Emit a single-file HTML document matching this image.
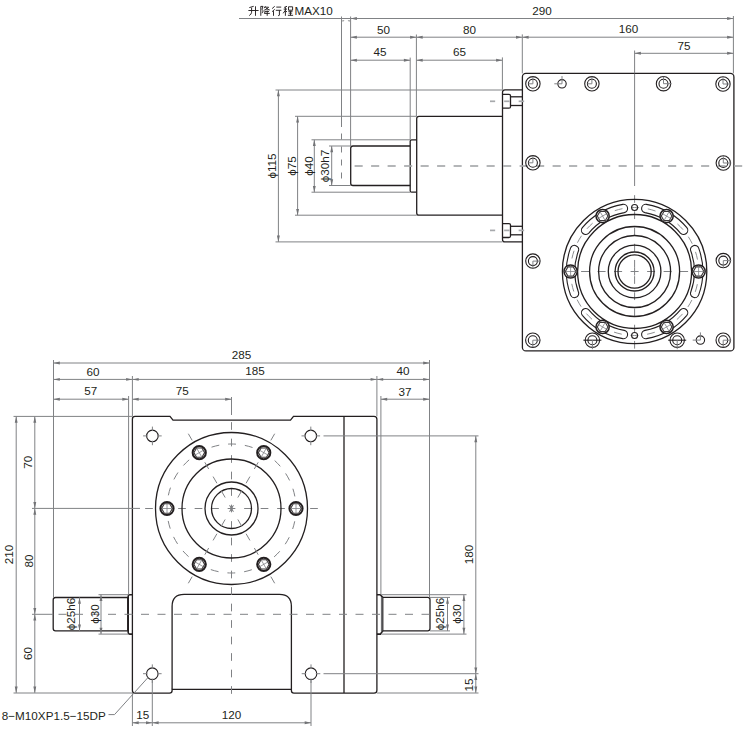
<!DOCTYPE html>
<html><head><meta charset="utf-8"><style>
html,body{margin:0;padding:0;background:#fff;}
body{width:743px;height:731px;overflow:hidden;}
svg{display:block;}
text{font-family:"Liberation Sans",sans-serif;fill:#231f20;}
.d{fill:none;stroke:#231f20;stroke-width:1.3;}
.dk{fill:none;stroke:#231f20;stroke-width:1.6;}
.dt{fill:none;stroke:#231f20;stroke-width:1.1;}
.dt2{fill:none;stroke:#231f20;stroke-width:1.3;}
.g{fill:none;stroke:#808285;stroke-width:1;}
.gt{fill:none;stroke:#808285;stroke-width:0.8;}
.c{fill:none;stroke:#a7a9ac;stroke-width:1.5;stroke-dasharray:8 8.6;}
.lc{fill:none;stroke:#a7a9ac;stroke-width:1.7;}
.gt2{fill:none;stroke:#808285;stroke-width:0.9;}
.c3{fill:none;stroke:#808285;stroke-width:1;stroke-dasharray:9 7;}
</style></head><body>
<svg width="743" height="731" viewBox="0 0 743 731">
<rect width="743" height="731" fill="#fff"/>
<rect class="d" x="522.4" y="73.4" width="211.5" height="277.5" rx="3.5"/>
<path class="d" d="M522.4 89.8H505Q502.5 89.8 502.5 92.3V239.4Q502.5 241.9 505 241.9H522.4"/>
<path class="d" d="M502.5 94.3H509Q510.5 94.3 510.5 95.8V106.7Q510.5 108.2 509 108.2H502.5"/>
<line class="d" x1="510.5" y1="96.8" x2="522.4" y2="96.8"/>
<line class="d" x1="510.5" y1="105.5" x2="522.4" y2="105.5"/>
<path class="d" d="M502.5 223.6H509Q510.5 223.6 510.5 225.1V236Q510.5 237.5 509 237.5H502.5"/>
<line class="d" x1="510.5" y1="226.3" x2="522.4" y2="226.3"/>
<line class="d" x1="510.5" y1="234.8" x2="522.4" y2="234.8"/>
<path class="d" d="M502.5 116.3H419Q416.7 116.3 416.7 118.6V212.9Q416.7 215.2 419 215.2H502.5"/>
<path class="d" d="M416.7 139.8H411.7Q410.2 139.8 410.2 141.3V190.7Q410.2 192.2 411.7 192.2H416.7"/>
<path class="d" d="M410.2 146H353Q350.7 146 350.7 148.3V183.2Q350.7 185.5 353 185.5H410.2"/>
<line class="lc" x1="354.6" y1="166" x2="362.7" y2="166"/>
<line class="lc" x1="371.1" y1="166" x2="379.2" y2="166"/>
<line class="lc" x1="387.6" y1="166" x2="395.7" y2="166"/>
<line class="lc" x1="404.1" y1="166" x2="412.2" y2="166"/>
<line class="lc" x1="420.6" y1="166" x2="428.7" y2="166"/>
<line class="lc" x1="437.1" y1="166" x2="445.2" y2="166"/>
<line class="lc" x1="453.6" y1="166" x2="461.7" y2="166"/>
<line class="lc" x1="470.1" y1="166" x2="478.2" y2="166"/>
<line class="lc" x1="486.6" y1="166" x2="494.7" y2="166"/>
<line class="lc" x1="503.1" y1="166" x2="511.2" y2="166"/>
<line class="lc" x1="519.6" y1="166" x2="527.7" y2="166"/>
<line class="lc" x1="536.1" y1="166" x2="544.2" y2="166"/>
<line class="lc" x1="552.6" y1="166" x2="560.7" y2="166"/>
<line class="lc" x1="569.1" y1="166" x2="577.2" y2="166"/>
<line class="lc" x1="585.6" y1="166" x2="593.7" y2="166"/>
<line class="lc" x1="602.1" y1="166" x2="610.2" y2="166"/>
<line class="lc" x1="618.6" y1="166" x2="626.7" y2="166"/>
<line class="lc" x1="635.1" y1="166" x2="643.2" y2="166"/>
<line class="lc" x1="651.6" y1="166" x2="659.7" y2="166"/>
<line class="lc" x1="668.1" y1="166" x2="676.2" y2="166"/>
<line class="lc" x1="684.6" y1="166" x2="692.7" y2="166"/>
<line class="lc" x1="701.1" y1="166" x2="709.2" y2="166"/>
<line class="lc" x1="717.6" y1="166" x2="725.7" y2="166"/>
<line class="lc" x1="734.1" y1="166" x2="742.2" y2="166"/>
<line class="g" x1="634.6" y1="74" x2="634.6" y2="186"/>
<line class="g" x1="634.6" y1="195.15" x2="634.6" y2="202.85"/>
<line class="g" x1="634.6" y1="211.35" x2="634.6" y2="219.05"/>
<line class="g" x1="634.6" y1="227.55" x2="634.6" y2="235.25"/>
<line class="g" x1="634.6" y1="243.75" x2="634.6" y2="251.45"/>
<line class="g" x1="634.6" y1="259.95" x2="634.6" y2="267.65"/>
<line class="g" x1="634.6" y1="276.15" x2="634.6" y2="283.85"/>
<line class="g" x1="634.6" y1="292.35" x2="634.6" y2="300.05"/>
<line class="g" x1="634.6" y1="308.55" x2="634.6" y2="316.25"/>
<line class="g" x1="634.6" y1="324.75" x2="634.6" y2="332.45"/>
<line class="g" x1="634.6" y1="340.95" x2="634.6" y2="348.65"/>
<line class="g" x1="634.6" y1="267.5" x2="634.6" y2="275.5"/>
<line class="g" x1="564.6" y1="271.5" x2="572.6" y2="271.5"/>
<line class="g" x1="581.1" y1="271.5" x2="589.1" y2="271.5"/>
<line class="g" x1="597.6" y1="271.5" x2="605.6" y2="271.5"/>
<line class="g" x1="614.1" y1="271.5" x2="622.1" y2="271.5"/>
<line class="g" x1="630.6" y1="271.5" x2="638.6" y2="271.5"/>
<line class="g" x1="647.1" y1="271.5" x2="655.1" y2="271.5"/>
<line class="g" x1="663.6" y1="271.5" x2="671.6" y2="271.5"/>
<line class="g" x1="680.1" y1="271.5" x2="688.1" y2="271.5"/>
<line class="g" x1="696.6" y1="271.5" x2="704.6" y2="271.5"/>
<line class="lc" x1="490" y1="101.3" x2="495.15" y2="101.3"/>
<line class="lc" x1="504.15" y1="101.3" x2="509.65" y2="101.3"/>
<line class="lc" x1="518.65" y1="101.3" x2="524.15" y2="101.3"/>
<line class="lc" x1="490" y1="230.4" x2="495.15" y2="230.4"/>
<line class="lc" x1="504.15" y1="230.4" x2="509.65" y2="230.4"/>
<line class="lc" x1="518.65" y1="230.4" x2="524.15" y2="230.4"/>
<circle class="dt" cx="532.9" cy="83.8" r="7.2"/>
<circle class="dt" cx="532.9" cy="83.8" r="4.5"/>
<line class="g" x1="532.9" y1="76.8" x2="532.9" y2="83.8"/>
<line class="g" x1="528.4" y1="83.8" x2="532.9" y2="83.8"/>
<circle class="dt" cx="591.9" cy="83.8" r="7.2"/>
<circle class="dt" cx="591.9" cy="83.8" r="4.5"/>
<line class="g" x1="591.9" y1="76.8" x2="591.9" y2="83.8"/>
<line class="g" x1="587.4" y1="83.8" x2="591.9" y2="83.8"/>
<circle class="dt" cx="663.5" cy="83.7" r="7.2"/>
<circle class="dt" cx="663.5" cy="83.7" r="4.5"/>
<line class="g" x1="663.5" y1="76.7" x2="663.5" y2="83.7"/>
<line class="g" x1="671.5" y1="83.7" x2="663.5" y2="83.7"/>
<circle class="dt" cx="723" cy="84" r="7.2"/>
<circle class="dt" cx="723" cy="84" r="4.5"/>
<line class="g" x1="723" y1="77" x2="723" y2="84"/>
<line class="g" x1="731" y1="84" x2="723" y2="84"/>
<circle class="dt" cx="532.9" cy="162.8" r="7.2"/>
<circle class="dt" cx="532.9" cy="162.8" r="4.5"/>
<line class="g" x1="532.9" y1="155.8" x2="532.9" y2="162.8"/>
<line class="g" x1="528.4" y1="162.8" x2="532.9" y2="162.8"/>
<circle class="dt" cx="723.3" cy="163" r="7.2"/>
<circle class="dt" cx="723.3" cy="163" r="4.5"/>
<line class="g" x1="723.3" y1="156" x2="723.3" y2="163"/>
<line class="g" x1="731.3" y1="163" x2="723.3" y2="163"/>
<circle class="dt" cx="532.9" cy="261.1" r="7.2"/>
<circle class="dt" cx="532.9" cy="261.1" r="4.5"/>
<line class="g" x1="532.9" y1="261.1" x2="532.9" y2="268.1"/>
<line class="g" x1="532.9" y1="261.1" x2="540.9" y2="261.1"/>
<circle class="dt" cx="723.3" cy="260.6" r="7.2"/>
<circle class="dt" cx="723.3" cy="260.6" r="4.5"/>
<line class="g" x1="723.3" y1="260.6" x2="723.3" y2="267.6"/>
<line class="g" x1="723.3" y1="260.6" x2="731.3" y2="260.6"/>
<circle class="dt" cx="532.8" cy="340.2" r="7.2"/>
<circle class="dt" cx="532.8" cy="340.2" r="4.5"/>
<line class="g" x1="532.8" y1="340.2" x2="532.8" y2="347.2"/>
<line class="g" x1="532.8" y1="340.2" x2="540.8" y2="340.2"/>
<circle class="dt" cx="723.2" cy="340.2" r="7.2"/>
<circle class="dt" cx="723.2" cy="340.2" r="4.5"/>
<line class="g" x1="723.2" y1="340.2" x2="723.2" y2="347.2"/>
<line class="g" x1="723.2" y1="340.2" x2="731.2" y2="340.2"/>
<circle class="dt" cx="592.4" cy="340.2" r="7.2"/>
<circle class="dt" cx="592.4" cy="340.2" r="4.5"/>
<line class="dt" x1="583.4" y1="340.2" x2="601.4" y2="340.2"/>
<line class="g" x1="592.4" y1="340.2" x2="592.4" y2="349.2"/>
<circle class="dt" cx="677.2" cy="340.2" r="7.2"/>
<circle class="dt" cx="677.2" cy="340.2" r="4.5"/>
<line class="dt" x1="668.2" y1="340.2" x2="686.2" y2="340.2"/>
<line class="g" x1="677.2" y1="340.2" x2="677.2" y2="349.2"/>
<circle class="dt" cx="562" cy="83.8" r="4.2"/>
<line class="g" x1="562" y1="76.1" x2="562" y2="83.8"/>
<line class="g" x1="554.3" y1="83.8" x2="562" y2="83.8"/>
<circle class="dt" cx="700.4" cy="340.1" r="4.2"/>
<line class="g" x1="700.4" y1="332.4" x2="700.4" y2="340.1"/>
<line class="g" x1="692.7" y1="340.1" x2="700.4" y2="340.1"/>
<circle class="d" cx="634.6" cy="271.5" r="72.2"/>
<circle class="d" cx="634.6" cy="271.5" r="57"/>
<circle class="d" cx="634.6" cy="271.5" r="45"/>
<circle class="d" cx="634.6" cy="271.5" r="36"/>
<circle class="d" cx="634.6" cy="271.5" r="26.3"/>
<circle class="d" cx="634.6" cy="271.5" r="19.5"/>
<circle class="d" cx="634.6" cy="271.5" r="16.6"/>
<path class="dt" d="M698.69 294.83 A68.2 68.2 0 0 0 698.69 248.17 A4.2 4.2 0 0 0 690.79 251.05 A59.8 59.8 0 0 1 690.79 291.95 A4.2 4.2 0 0 0 698.69 294.83 Z"/>
<path class="dt" d="M686.84 227.66 A68.2 68.2 0 0 0 646.44 204.34 A4.2 4.2 0 0 0 644.98 212.61 A59.8 59.8 0 0 1 680.41 233.06 A4.2 4.2 0 0 0 686.84 227.66 Z"/>
<path class="dt" d="M622.76 204.34 A68.2 68.2 0 0 0 582.36 227.66 A4.2 4.2 0 0 0 588.79 233.06 A59.8 59.8 0 0 1 624.22 212.61 A4.2 4.2 0 0 0 622.76 204.34 Z"/>
<path class="dt" d="M570.51 248.17 A68.2 68.2 0 0 0 570.51 294.83 A4.2 4.2 0 0 0 578.41 291.95 A59.8 59.8 0 0 1 578.41 251.05 A4.2 4.2 0 0 0 570.51 248.17 Z"/>
<path class="dt" d="M582.36 315.34 A68.2 68.2 0 0 0 622.76 338.66 A4.2 4.2 0 0 0 624.22 330.39 A59.8 59.8 0 0 1 588.79 309.94 A4.2 4.2 0 0 0 582.36 315.34 Z"/>
<path class="dt" d="M646.44 338.66 A68.2 68.2 0 0 0 686.84 315.34 A4.2 4.2 0 0 0 680.41 309.94 A59.8 59.8 0 0 1 644.98 330.39 A4.2 4.2 0 0 0 646.44 338.66 Z"/>
<circle class="gt2" cx="634.6" cy="271.5" r="64" stroke-dasharray="8 8.76" stroke-dashoffset="4"/>
<circle cx="698.6" cy="271.5" r="6.6" fill="#fff" stroke="#231f20" stroke-width="1.5"/>
<polygon fill="none" stroke="#3a3637" stroke-width="1.1" points="703.9,271.5 701.25,266.91 695.95,266.91 693.3,271.5 695.95,276.09 701.25,276.09"/>
<line class="gt" x1="693.8" y1="271.5" x2="703.4" y2="271.5"/>
<line class="gt" x1="698.6" y1="266.7" x2="698.6" y2="276.3"/>
<circle cx="666.6" cy="216.07" r="6.6" fill="#fff" stroke="#231f20" stroke-width="1.5"/>
<polygon fill="none" stroke="#3a3637" stroke-width="1.1" points="669.25,211.48 663.95,211.48 661.3,216.07 663.95,220.66 669.25,220.66 671.9,216.07"/>
<line class="gt" x1="664.2" y1="220.23" x2="669" y2="211.92"/>
<line class="gt" x1="662.44" y1="213.67" x2="670.76" y2="218.47"/>
<circle cx="602.6" cy="216.07" r="6.6" fill="#fff" stroke="#231f20" stroke-width="1.5"/>
<polygon fill="none" stroke="#3a3637" stroke-width="1.1" points="599.95,211.48 597.3,216.07 599.95,220.66 605.25,220.66 607.9,216.07 605.25,211.48"/>
<line class="gt" x1="605" y1="220.23" x2="600.2" y2="211.92"/>
<line class="gt" x1="598.44" y1="218.47" x2="606.76" y2="213.67"/>
<circle cx="570.6" cy="271.5" r="6.6" fill="#fff" stroke="#231f20" stroke-width="1.5"/>
<polygon fill="none" stroke="#3a3637" stroke-width="1.1" points="565.3,271.5 567.95,276.09 573.25,276.09 575.9,271.5 573.25,266.91 567.95,266.91"/>
<line class="gt" x1="575.4" y1="271.5" x2="565.8" y2="271.5"/>
<line class="gt" x1="570.6" y1="276.3" x2="570.6" y2="266.7"/>
<circle cx="602.6" cy="326.93" r="6.6" fill="#fff" stroke="#231f20" stroke-width="1.5"/>
<polygon fill="none" stroke="#3a3637" stroke-width="1.1" points="599.95,331.52 605.25,331.52 607.9,326.93 605.25,322.34 599.95,322.34 597.3,326.93"/>
<line class="gt" x1="605" y1="322.77" x2="600.2" y2="331.08"/>
<line class="gt" x1="606.76" y1="329.33" x2="598.44" y2="324.53"/>
<circle cx="666.6" cy="326.93" r="6.6" fill="#fff" stroke="#231f20" stroke-width="1.5"/>
<polygon fill="none" stroke="#3a3637" stroke-width="1.1" points="669.25,331.52 671.9,326.93 669.25,322.34 663.95,322.34 661.3,326.93 663.95,331.52"/>
<line class="gt" x1="664.2" y1="322.77" x2="669" y2="331.08"/>
<line class="gt" x1="670.76" y1="324.53" x2="662.44" y2="329.33"/>
<circle class="dt" cx="634.6" cy="207.5" r="3"/>
<circle class="dt" cx="634.6" cy="335.5" r="3"/>
<line class="g" x1="239" y1="18.5" x2="350.6" y2="18.5"/>
<line class="g" x1="350.6" y1="18.5" x2="733.4" y2="18.5"/>
<path fill="#727376" d="M350.6 18.5L356.9 17.05L356.9 19.95Z"/>
<path fill="#727376" d="M733.4 18.5L727.1 19.95L727.1 17.05Z"/>
<line class="g" x1="341.5" y1="16.5" x2="341.5" y2="127"/>
<line class="g" x1="341.5" y1="133.5" x2="341.5" y2="139.5"/>
<line class="g" x1="341.5" y1="146.5" x2="341.5" y2="152.5"/>
<line class="g" x1="341.5" y1="159.5" x2="341.5" y2="165.5"/>
<line class="g" x1="341.5" y1="172.5" x2="341.5" y2="178.5"/>
<line class="g" x1="341.5" y1="185.5" x2="341.5" y2="186"/>
<line class="g" x1="350.6" y1="16.5" x2="350.6" y2="146"/>
<path fill="#727376" d="M344.5 20.8L342.5 21.7L342.5 19.9Z"/>
<path fill="#727376" d="M347.6 20.8L349.6 19.9L349.6 21.7Z"/>
<line class="g" x1="350.6" y1="37.2" x2="416.4" y2="37.2"/>
<path fill="#727376" d="M350.6 37.2L356.9 35.75L356.9 38.65Z"/>
<path fill="#727376" d="M416.4 37.2L410.1 38.65L410.1 35.75Z"/>
<line class="g" x1="416.4" y1="37.2" x2="522.3" y2="37.2"/>
<path fill="#727376" d="M416.4 37.2L422.7 35.75L422.7 38.65Z"/>
<path fill="#727376" d="M522.3 37.2L516 38.65L516 35.75Z"/>
<line class="g" x1="522.3" y1="37.2" x2="733.4" y2="37.2"/>
<path fill="#727376" d="M522.3 37.2L528.6 35.75L528.6 38.65Z"/>
<path fill="#727376" d="M733.4 37.2L727.1 38.65L727.1 35.75Z"/>
<line class="g" x1="350.6" y1="60.2" x2="410.2" y2="60.2"/>
<path fill="#727376" d="M350.6 60.2L356.9 58.75L356.9 61.65Z"/>
<path fill="#727376" d="M410.2 60.2L403.9 61.65L403.9 58.75Z"/>
<line class="g" x1="416.4" y1="60.2" x2="502.4" y2="60.2"/>
<path fill="#727376" d="M416.4 60.2L422.7 58.75L422.7 61.65Z"/>
<path fill="#727376" d="M502.4 60.2L496.1 61.65L496.1 58.75Z"/>
<line class="g" x1="634.6" y1="53.3" x2="733.4" y2="53.3"/>
<path fill="#727376" d="M634.6 53.3L640.9 51.85L640.9 54.75Z"/>
<path fill="#727376" d="M733.4 53.3L727.1 54.75L727.1 51.85Z"/>
<line class="g" x1="416.4" y1="34.5" x2="416.4" y2="116.3"/>
<line class="g" x1="410.2" y1="57.6" x2="410.2" y2="139.8"/>
<line class="g" x1="502.4" y1="57.4" x2="502.4" y2="89.8"/>
<line class="g" x1="522.3" y1="34.4" x2="522.3" y2="73.4"/>
<line class="g" x1="634.6" y1="50.5" x2="634.6" y2="73.4"/>
<line class="g" x1="733.4" y1="16" x2="733.4" y2="73.4"/>
<line class="g" x1="278.4" y1="90" x2="278.4" y2="241.9"/>
<path fill="#727376" d="M278.4 90L279.85 96.3L276.95 96.3Z"/>
<path fill="#727376" d="M278.4 241.9L276.95 235.6L279.85 235.6Z"/>
<line class="g" x1="297.6" y1="116.3" x2="297.6" y2="215.2"/>
<path fill="#727376" d="M297.6 116.3L299.05 122.6L296.15 122.6Z"/>
<path fill="#727376" d="M297.6 215.2L296.15 208.9L299.05 208.9Z"/>
<line class="g" x1="314.3" y1="139.8" x2="314.3" y2="192.2"/>
<path fill="#727376" d="M314.3 139.8L315.75 146.1L312.85 146.1Z"/>
<path fill="#727376" d="M314.3 192.2L312.85 185.9L315.75 185.9Z"/>
<line class="g" x1="331.7" y1="146" x2="331.7" y2="185.5"/>
<path fill="#727376" d="M331.7 146L333.15 152.3L330.25 152.3Z"/>
<path fill="#727376" d="M331.7 185.5L330.25 179.2L333.15 179.2Z"/>
<line class="g" x1="275.5" y1="90" x2="502.5" y2="90"/>
<line class="g" x1="275.5" y1="241.9" x2="502.5" y2="241.9"/>
<line class="g" x1="295" y1="116.3" x2="416.7" y2="116.3"/>
<line class="g" x1="295" y1="215.2" x2="416.7" y2="215.2"/>
<line class="g" x1="311.5" y1="139.8" x2="410.2" y2="139.8"/>
<line class="g" x1="311.5" y1="192.2" x2="410.2" y2="192.2"/>
<line class="g" x1="329" y1="146" x2="350.7" y2="146"/>
<line class="g" x1="329" y1="185.5" x2="350.7" y2="185.5"/>
<text x="542" y="15.4" text-anchor="middle" font-size="11.7">290</text>
<text x="383.6" y="33.7" text-anchor="middle" font-size="11.7">50</text>
<text x="469.5" y="33.5" text-anchor="middle" font-size="11.7">80</text>
<text x="628.5" y="33.2" text-anchor="middle" font-size="11.7">160</text>
<text x="380" y="56.3" text-anchor="middle" font-size="11.7">45</text>
<text x="459.6" y="56.2" text-anchor="middle" font-size="11.7">65</text>
<text x="684" y="49.6" text-anchor="middle" font-size="11.7">75</text>
<text transform="translate(272 166) rotate(-90)" x="0" y="4.21" text-anchor="middle" font-size="11.7">ϕ115</text>
<text transform="translate(291.7 166) rotate(-90)" x="0" y="4.21" text-anchor="middle" font-size="11.7">ϕ75</text>
<text transform="translate(308.7 166) rotate(-90)" x="0" y="4.21" text-anchor="middle" font-size="11.7">ϕ40</text>
<text transform="translate(325 166) rotate(-90)" x="0" y="4.21" text-anchor="middle" font-size="11.7">ϕ30h7</text>
<text x="294.4" y="14.9" text-anchor="start" font-size="11.7">MAX10</text>
<path transform="translate(248.4 5.8)" fill="none" stroke="#231f20" stroke-width="0.95" d="M0.9 1.8L5.3 0.5M0 4.7H10.2M3.2 1.9V6.5Q3 8.6 0.8 9.8M7.1 0.5V10"/>
<path transform="translate(259.6 5.8)" fill="none" stroke="#231f20" stroke-width="0.95" d="M1.2 0.5V10M1.2 0.6H3.4L2.4 3.4Q3.8 4.8 3.3 6.2Q2.9 7.2 2.2 7.1M5.8 0.3L4.6 2.4M5.4 1.4H9Q7.6 3.6 4.6 4.4M6.4 2.6Q8.2 3.8 10.2 4.2M5.2 5.6H9.4M5.2 5.6V7.4M4.6 7.6H10.2M7.6 4.8V10"/>
<path transform="translate(271.2 5.8)" fill="none" stroke="#231f20" stroke-width="0.95" d="M3.5 0.5L0.9 2.8M3.5 3.5L0.9 5.9M2.3 5.3V10M5.1 1.3H10M4.6 4.5H10.2M8.2 4.5V9.2Q8.2 10 7 9.8"/>
<path transform="translate(282.7 5.8)" fill="none" stroke="#231f20" stroke-width="0.95" d="M4.3 0.5L1.5 1.6M1 3.3H4.3M2.7 1.4V10M2.7 4.4L0.5 7.5M3.3 5.3L4.3 6.2M5.8 1H9.9V4.4H5.8ZM5.6 5.5H9.8M6 7.3H9.5M5.2 9.5H10.4M7.8 5.5V9.5"/>
<path class="d" d="M135 416.4H170L173 420.2H290.5L293.5 416.4H374Q376.9 416.4 376.9 419.3V690.2Q376.9 693.1 374 693.1H294Q291.4 693.1 291.4 690.5V689.3H172.1V690.5Q172.1 693.1 169.5 693.1H135Q132.4 693.1 132.4 690.5V419Q132.4 416.4 135 416.4Z"/>
<path class="d" d="M172.1 689.3V606.4Q172.1 594.4 184.1 594.4H279.4Q291.4 594.4 291.4 606.4V689.3"/>
<line class="d" x1="344" y1="416.4" x2="344" y2="693.1"/>
<path class="dk" d="M132.4 594.7H129.7Q128.2 594.7 128.2 596.2V632.6Q128.2 634.1 129.7 634.1H132.4"/>
<path class="d" d="M128.2 597.5H55.5Q53.2 597.5 53.2 599.8V628.5Q53.2 630.8 55.5 630.8H128.2"/>
<rect x="127.1" y="597.5" width="1.4" height="33.3" fill="#231f20"/>
<path class="dk" d="M376.9 594.7H380.4L382.6 597.4V630.9L380.4 634.1H376.9"/>
<rect x="380.9" y="597" width="1.7" height="34.3" fill="#6d6e71"/>
<path class="d" d="M382.6 597.4H427.7Q430 597.4 430 599.7V628.6Q430 630.9 427.7 630.9H382.6"/>
<line class="g" x1="231.5" y1="422.15" x2="231.5" y2="429.85"/>
<line class="g" x1="231.5" y1="438.65" x2="231.5" y2="446.35"/>
<line class="g" x1="231.5" y1="455.15" x2="231.5" y2="462.85"/>
<line class="g" x1="231.5" y1="471.65" x2="231.5" y2="479.35"/>
<line class="g" x1="231.5" y1="488.15" x2="231.5" y2="495.85"/>
<line class="g" x1="231.5" y1="504.65" x2="231.5" y2="512.35"/>
<line class="g" x1="231.5" y1="521.15" x2="231.5" y2="528.85"/>
<line class="g" x1="231.5" y1="537.65" x2="231.5" y2="545.35"/>
<line class="g" x1="231.5" y1="554.15" x2="231.5" y2="561.85"/>
<line class="g" x1="231.5" y1="570.65" x2="231.5" y2="578.35"/>
<line class="g" x1="231.5" y1="587.15" x2="231.5" y2="594.85"/>
<line class="g" x1="231.5" y1="603.65" x2="231.5" y2="611.35"/>
<line class="g" x1="231.5" y1="620.15" x2="231.5" y2="627.85"/>
<line class="g" x1="231.5" y1="636.65" x2="231.5" y2="644.35"/>
<line class="g" x1="231.5" y1="653.15" x2="231.5" y2="660.85"/>
<line class="g" x1="231.5" y1="669.65" x2="231.5" y2="677.35"/>
<line class="g" x1="231.5" y1="686.15" x2="231.5" y2="693.85"/>
<line class="g" x1="145.15" y1="508.5" x2="152.85" y2="508.5"/>
<line class="g" x1="161.65" y1="508.5" x2="169.35" y2="508.5"/>
<line class="g" x1="178.15" y1="508.5" x2="185.85" y2="508.5"/>
<line class="g" x1="194.65" y1="508.5" x2="202.35" y2="508.5"/>
<line class="g" x1="211.15" y1="508.5" x2="218.85" y2="508.5"/>
<line class="g" x1="227.65" y1="508.5" x2="235.35" y2="508.5"/>
<line class="g" x1="244.15" y1="508.5" x2="251.85" y2="508.5"/>
<line class="g" x1="260.65" y1="508.5" x2="268.35" y2="508.5"/>
<line class="g" x1="277.15" y1="508.5" x2="284.85" y2="508.5"/>
<line class="g" x1="293.65" y1="508.5" x2="301.35" y2="508.5"/>
<line class="g" x1="310.15" y1="508.5" x2="317.85" y2="508.5"/>
<line class="g" x1="58.5" y1="614.3" x2="66.5" y2="614.3"/>
<line class="g" x1="75" y1="614.3" x2="83" y2="614.3"/>
<line class="g" x1="91.5" y1="614.3" x2="99.5" y2="614.3"/>
<line class="g" x1="108" y1="614.3" x2="116" y2="614.3"/>
<line class="g" x1="124.5" y1="614.3" x2="132.5" y2="614.3"/>
<line class="g" x1="141" y1="614.3" x2="149" y2="614.3"/>
<line class="g" x1="157.5" y1="614.3" x2="165.5" y2="614.3"/>
<line class="g" x1="174" y1="614.3" x2="182" y2="614.3"/>
<line class="g" x1="190.5" y1="614.3" x2="198.5" y2="614.3"/>
<line class="g" x1="207" y1="614.3" x2="215" y2="614.3"/>
<line class="g" x1="223.5" y1="614.3" x2="231.5" y2="614.3"/>
<line class="g" x1="240" y1="614.3" x2="248" y2="614.3"/>
<line class="g" x1="256.5" y1="614.3" x2="264.5" y2="614.3"/>
<line class="g" x1="273" y1="614.3" x2="281" y2="614.3"/>
<line class="g" x1="289.5" y1="614.3" x2="297.5" y2="614.3"/>
<line class="g" x1="306" y1="614.3" x2="314" y2="614.3"/>
<line class="g" x1="322.5" y1="614.3" x2="330.5" y2="614.3"/>
<line class="g" x1="339" y1="614.3" x2="347" y2="614.3"/>
<line class="g" x1="355.5" y1="614.3" x2="363.5" y2="614.3"/>
<line class="g" x1="372" y1="614.3" x2="380" y2="614.3"/>
<line class="g" x1="388.5" y1="614.3" x2="396.5" y2="614.3"/>
<line class="g" x1="405" y1="614.3" x2="413" y2="614.3"/>
<line class="g" x1="421.5" y1="614.3" x2="429.5" y2="614.3"/>
<circle class="d" cx="231.5" cy="508.5" r="76"/>
<circle class="d" cx="231.5" cy="508.5" r="49.5"/>
<circle class="d" cx="231.5" cy="508.5" r="26.5"/>
<circle class="d" cx="231.5" cy="508.5" r="20"/>
<circle class="g" cx="231.5" cy="508.5" r="64.5" stroke-dasharray="8 8.89" stroke-dashoffset="4"/>
<line class="g" x1="274.68" y1="433.72" x2="270.82" y2="440.39"/>
<line class="g" x1="266.43" y1="448.01" x2="262.57" y2="454.68"/>
<line class="g" x1="258.18" y1="462.3" x2="254.32" y2="468.97"/>
<line class="g" x1="249.93" y1="476.59" x2="246.07" y2="483.26"/>
<line class="g" x1="241.68" y1="490.88" x2="237.82" y2="497.54"/>
<line class="g" x1="233.43" y1="505.17" x2="229.57" y2="511.83"/>
<line class="g" x1="225.18" y1="519.46" x2="221.32" y2="526.12"/>
<line class="g" x1="216.93" y1="533.74" x2="213.07" y2="540.41"/>
<line class="g" x1="208.68" y1="548.03" x2="204.82" y2="554.7"/>
<line class="g" x1="200.43" y1="562.32" x2="196.57" y2="568.99"/>
<line class="g" x1="192.18" y1="576.61" x2="188.32" y2="583.28"/>
<line class="g" x1="230.2" y1="510.75" x2="232.8" y2="506.25"/>
<line class="g" x1="188.33" y1="433.72" x2="192.18" y2="440.39"/>
<line class="g" x1="196.58" y1="448.01" x2="200.43" y2="454.68"/>
<line class="g" x1="204.83" y1="462.3" x2="208.68" y2="468.97"/>
<line class="g" x1="213.08" y1="476.59" x2="216.93" y2="483.26"/>
<line class="g" x1="221.33" y1="490.88" x2="225.18" y2="497.54"/>
<line class="g" x1="229.58" y1="505.17" x2="233.43" y2="511.83"/>
<line class="g" x1="237.83" y1="519.46" x2="241.68" y2="526.12"/>
<line class="g" x1="246.08" y1="533.74" x2="249.93" y2="540.41"/>
<line class="g" x1="254.33" y1="548.03" x2="258.18" y2="554.7"/>
<line class="g" x1="262.58" y1="562.32" x2="266.43" y2="568.99"/>
<line class="g" x1="270.83" y1="576.61" x2="274.68" y2="583.28"/>
<line class="g" x1="232.8" y1="510.75" x2="230.2" y2="506.25"/>
<circle cx="296" cy="508.5" r="6.6" fill="#fff" stroke="#231f20" stroke-width="2.0"/>
<polygon fill="none" stroke="#3a3637" stroke-width="1.1" points="301.4,508.5 298.7,503.82 293.3,503.82 290.6,508.5 293.3,513.18 298.7,513.18"/>
<line class="gt" x1="291.1" y1="508.5" x2="300.9" y2="508.5"/>
<line class="gt" x1="296" y1="503.6" x2="296" y2="513.4"/>
<circle cx="263.75" cy="452.64" r="6.6" fill="#fff" stroke="#231f20" stroke-width="2.0"/>
<polygon fill="none" stroke="#3a3637" stroke-width="1.1" points="266.45,447.96 261.05,447.96 258.35,452.64 261.05,457.32 266.45,457.32 269.15,452.64"/>
<line class="gt" x1="261.3" y1="456.88" x2="266.2" y2="448.4"/>
<line class="gt" x1="259.51" y1="450.19" x2="267.99" y2="455.09"/>
<circle cx="199.25" cy="452.64" r="6.6" fill="#fff" stroke="#231f20" stroke-width="2.0"/>
<polygon fill="none" stroke="#3a3637" stroke-width="1.1" points="196.55,447.96 193.85,452.64 196.55,457.32 201.95,457.32 204.65,452.64 201.95,447.96"/>
<line class="gt" x1="201.7" y1="456.88" x2="196.8" y2="448.4"/>
<line class="gt" x1="195.01" y1="455.09" x2="203.49" y2="450.19"/>
<circle cx="167" cy="508.5" r="6.6" fill="#fff" stroke="#231f20" stroke-width="2.0"/>
<polygon fill="none" stroke="#3a3637" stroke-width="1.1" points="161.6,508.5 164.3,513.18 169.7,513.18 172.4,508.5 169.7,503.82 164.3,503.82"/>
<line class="gt" x1="171.9" y1="508.5" x2="162.1" y2="508.5"/>
<line class="gt" x1="167" y1="513.4" x2="167" y2="503.6"/>
<circle cx="199.25" cy="564.36" r="6.6" fill="#fff" stroke="#231f20" stroke-width="2.0"/>
<polygon fill="none" stroke="#3a3637" stroke-width="1.1" points="196.55,569.04 201.95,569.04 204.65,564.36 201.95,559.68 196.55,559.68 193.85,564.36"/>
<line class="gt" x1="201.7" y1="560.12" x2="196.8" y2="568.6"/>
<line class="gt" x1="203.49" y1="566.81" x2="195.01" y2="561.91"/>
<circle cx="263.75" cy="564.36" r="6.6" fill="#fff" stroke="#231f20" stroke-width="2.0"/>
<polygon fill="none" stroke="#3a3637" stroke-width="1.1" points="266.45,569.04 269.15,564.36 266.45,559.68 261.05,559.68 258.35,564.36 261.05,569.04"/>
<line class="gt" x1="261.3" y1="560.12" x2="266.2" y2="568.6"/>
<line class="gt" x1="267.99" y1="561.91" x2="259.51" y2="566.81"/>
<circle class="dt" cx="152.4" cy="435.9" r="5.8"/>
<line class="g" x1="143.1" y1="435.9" x2="147.6" y2="435.9"/>
<line class="g" x1="157.2" y1="435.9" x2="161.7" y2="435.9"/>
<line class="g" x1="152.4" y1="426.6" x2="152.4" y2="431.1"/>
<line class="g" x1="152.4" y1="440.7" x2="152.4" y2="445.2"/>
<circle class="dt" cx="310.8" cy="435.9" r="5.8"/>
<line class="g" x1="301.5" y1="435.9" x2="306" y2="435.9"/>
<line class="g" x1="315.6" y1="435.9" x2="320.1" y2="435.9"/>
<line class="g" x1="310.8" y1="426.6" x2="310.8" y2="431.1"/>
<line class="g" x1="310.8" y1="440.7" x2="310.8" y2="445.2"/>
<circle class="dt" cx="152.3" cy="673.7" r="5.8"/>
<line class="g" x1="143" y1="673.7" x2="147.5" y2="673.7"/>
<line class="g" x1="157.1" y1="673.7" x2="161.6" y2="673.7"/>
<line class="g" x1="152.3" y1="664.4" x2="152.3" y2="668.9"/>
<line class="g" x1="152.3" y1="678.5" x2="152.3" y2="683"/>
<circle class="dt" cx="311" cy="673.7" r="5.8"/>
<line class="g" x1="301.7" y1="673.7" x2="306.2" y2="673.7"/>
<line class="g" x1="315.8" y1="673.7" x2="320.3" y2="673.7"/>
<line class="g" x1="311" y1="664.4" x2="311" y2="668.9"/>
<line class="g" x1="311" y1="678.5" x2="311" y2="683"/>
<line class="g" x1="53.5" y1="363" x2="429.5" y2="363"/>
<path fill="#727376" d="M53.5 363L59.8 361.55L59.8 364.45Z"/>
<path fill="#727376" d="M429.5 363L423.2 364.45L423.2 361.55Z"/>
<line class="g" x1="53.5" y1="379.4" x2="132.4" y2="379.4"/>
<path fill="#727376" d="M53.5 379.4L59.8 377.95L59.8 380.85Z"/>
<path fill="#727376" d="M132.4 379.4L126.1 380.85L126.1 377.95Z"/>
<line class="g" x1="132.4" y1="379.4" x2="376.9" y2="379.4"/>
<path fill="#727376" d="M132.4 379.4L138.7 377.95L138.7 380.85Z"/>
<path fill="#727376" d="M376.9 379.4L370.6 380.85L370.6 377.95Z"/>
<line class="g" x1="376.9" y1="379.4" x2="429.5" y2="379.4"/>
<path fill="#727376" d="M376.9 379.4L383.2 377.95L383.2 380.85Z"/>
<path fill="#727376" d="M429.5 379.4L423.2 380.85L423.2 377.95Z"/>
<line class="g" x1="53.5" y1="399.2" x2="128.6" y2="399.2"/>
<path fill="#727376" d="M53.5 399.2L59.8 397.75L59.8 400.65Z"/>
<path fill="#727376" d="M128.6 399.2L122.3 400.65L122.3 397.75Z"/>
<line class="g" x1="132.4" y1="399.2" x2="231.5" y2="399.2"/>
<path fill="#727376" d="M132.4 399.2L138.7 397.75L138.7 400.65Z"/>
<path fill="#727376" d="M231.5 399.2L225.2 400.65L225.2 397.75Z"/>
<line class="g" x1="380.9" y1="399.2" x2="429.5" y2="399.2"/>
<path fill="#727376" d="M380.9 399.2L387.2 397.75L387.2 400.65Z"/>
<path fill="#727376" d="M429.5 399.2L423.2 400.65L423.2 397.75Z"/>
<line class="g" x1="53.5" y1="360" x2="53.5" y2="597.5"/>
<line class="g" x1="132.4" y1="376" x2="132.4" y2="416.4"/>
<line class="g" x1="128.6" y1="396" x2="128.6" y2="594.7"/>
<line class="g" x1="376.9" y1="376" x2="376.9" y2="416.4"/>
<line class="g" x1="380.9" y1="396" x2="380.9" y2="594.7"/>
<line class="g" x1="429.5" y1="360" x2="429.5" y2="597.4"/>
<line class="g" x1="231.5" y1="397" x2="231.5" y2="415"/>
<line class="g" x1="16.2" y1="416.4" x2="16.2" y2="692.9"/>
<path fill="#727376" d="M16.2 416.4L17.65 422.7L14.75 422.7Z"/>
<path fill="#727376" d="M16.2 692.9L14.75 686.6L17.65 686.6Z"/>
<line class="g" x1="34.8" y1="416.4" x2="34.8" y2="508.4"/>
<path fill="#727376" d="M34.8 416.4L36.25 422.7L33.35 422.7Z"/>
<path fill="#727376" d="M34.8 508.4L33.35 502.1L36.25 502.1Z"/>
<line class="g" x1="34.8" y1="508.4" x2="34.8" y2="614.3"/>
<path fill="#727376" d="M34.8 508.4L36.25 514.7L33.35 514.7Z"/>
<path fill="#727376" d="M34.8 614.3L33.35 608L36.25 608Z"/>
<line class="g" x1="34.8" y1="614.3" x2="34.8" y2="692.9"/>
<path fill="#727376" d="M34.8 614.3L36.25 620.6L33.35 620.6Z"/>
<path fill="#727376" d="M34.8 692.9L33.35 686.6L36.25 686.6Z"/>
<line class="g" x1="13.5" y1="416.4" x2="132.4" y2="416.4"/>
<line class="g" x1="32" y1="508.4" x2="140" y2="508.4"/>
<line class="g" x1="32" y1="614.3" x2="53.2" y2="614.3"/>
<line class="g" x1="13.5" y1="693" x2="132.4" y2="693"/>
<line class="g" x1="79.5" y1="597.5" x2="79.5" y2="630.8"/>
<path fill="#727376" d="M79.5 597.5L80.95 603.8L78.05 603.8Z"/>
<path fill="#727376" d="M79.5 630.8L78.05 624.5L80.95 624.5Z"/>
<line class="g" x1="101" y1="594.7" x2="101" y2="634.1"/>
<path fill="#727376" d="M101 594.7L102.45 601L99.55 601Z"/>
<path fill="#727376" d="M101 634.1L99.55 627.8L102.45 627.8Z"/>
<line class="g" x1="98.5" y1="594.7" x2="128.2" y2="594.7"/>
<line class="g" x1="98.5" y1="634.1" x2="128.2" y2="634.1"/>
<line class="g" x1="447.5" y1="597.4" x2="447.5" y2="630.9"/>
<path fill="#727376" d="M447.5 597.4L448.95 603.7L446.05 603.7Z"/>
<path fill="#727376" d="M447.5 630.9L446.05 624.6L448.95 624.6Z"/>
<line class="g" x1="463.9" y1="594.7" x2="463.9" y2="634.1"/>
<path fill="#727376" d="M463.9 594.7L465.35 601L462.45 601Z"/>
<path fill="#727376" d="M463.9 634.1L462.45 627.8L465.35 627.8Z"/>
<line class="g" x1="430" y1="597.4" x2="450" y2="597.4"/>
<line class="g" x1="430" y1="630.9" x2="450" y2="630.9"/>
<line class="g" x1="381.4" y1="594.7" x2="466.5" y2="594.7"/>
<line class="g" x1="381.4" y1="634.1" x2="466.5" y2="634.1"/>
<line class="g" x1="475.8" y1="435.9" x2="475.8" y2="673.7"/>
<path fill="#727376" d="M475.8 435.9L477.25 442.2L474.35 442.2Z"/>
<path fill="#727376" d="M475.8 673.7L474.35 667.4L477.25 667.4Z"/>
<line class="g" x1="475.8" y1="673.7" x2="475.8" y2="692.9"/>
<path fill="#727376" d="M475.8 673.7L477.25 680L474.35 680Z"/>
<path fill="#727376" d="M475.8 692.9L474.35 686.6L477.25 686.6Z"/>
<line class="g" x1="323.5" y1="435.9" x2="478.5" y2="435.9"/>
<line class="g" x1="323.5" y1="673.7" x2="478.5" y2="673.7"/>
<line class="g" x1="377" y1="693" x2="478.5" y2="693"/>
<line class="g" x1="132.4" y1="722.8" x2="152.3" y2="722.8"/>
<path fill="#727376" d="M132.4 722.8L138.7 721.35L138.7 724.25Z"/>
<path fill="#727376" d="M152.3 722.8L146 724.25L146 721.35Z"/>
<line class="g" x1="152.3" y1="722.8" x2="311" y2="722.8"/>
<path fill="#727376" d="M152.3 722.8L158.6 721.35L158.6 724.25Z"/>
<path fill="#727376" d="M311 722.8L304.7 724.25L304.7 721.35Z"/>
<line class="g" x1="132.4" y1="693.1" x2="132.4" y2="726"/>
<line class="g" x1="152.3" y1="680" x2="152.3" y2="726"/>
<line class="g" x1="311" y1="680" x2="311" y2="726"/>
<polyline class="g" points="108.5,714.6 114.5,714.6 148,677.5"/>
<text x="241.6" y="359.2" text-anchor="middle" font-size="11.7">285</text>
<text x="92.9" y="375.8" text-anchor="middle" font-size="11.7">60</text>
<text x="255.1" y="375.3" text-anchor="middle" font-size="11.7">185</text>
<text x="403" y="375.3" text-anchor="middle" font-size="11.7">40</text>
<text x="90.7" y="395.2" text-anchor="middle" font-size="11.7">57</text>
<text x="182.2" y="395.2" text-anchor="middle" font-size="11.7">75</text>
<text x="405" y="395.5" text-anchor="middle" font-size="11.7">37</text>
<text transform="translate(8.6 554.4) rotate(-90)" x="0" y="4.21" text-anchor="middle" font-size="11.7">210</text>
<text transform="translate(28 462.3) rotate(-90)" x="0" y="4.21" text-anchor="middle" font-size="11.7">70</text>
<text transform="translate(28.7 560.9) rotate(-90)" x="0" y="4.21" text-anchor="middle" font-size="11.7">80</text>
<text transform="translate(28.2 653.6) rotate(-90)" x="0" y="4.21" text-anchor="middle" font-size="11.7">60</text>
<text transform="translate(71.2 614) rotate(-90)" x="0" y="4.21" text-anchor="middle" font-size="11.7">ϕ25h6</text>
<text transform="translate(94.9 614) rotate(-90)" x="0" y="4.21" text-anchor="middle" font-size="11.7">ϕ30</text>
<text transform="translate(439.6 614) rotate(-90)" x="0" y="4.21" text-anchor="middle" font-size="11.7">ϕ25h6</text>
<text transform="translate(457.1 614) rotate(-90)" x="0" y="4.21" text-anchor="middle" font-size="11.7">ϕ30</text>
<text transform="translate(468.4 554.4) rotate(-90)" x="0" y="4.21" text-anchor="middle" font-size="11.7">180</text>
<text transform="translate(469.1 684.9) rotate(-90)" x="0" y="4.21" text-anchor="middle" font-size="11.7">15</text>
<text x="1.8" y="719.6" text-anchor="start" font-size="11.7">8−M10XP1.5−15DP</text>
<text x="142.7" y="718.9" text-anchor="middle" font-size="11.7">15</text>
<text x="231.6" y="718.9" text-anchor="middle" font-size="11.7">120</text>
</svg>
</body></html>
